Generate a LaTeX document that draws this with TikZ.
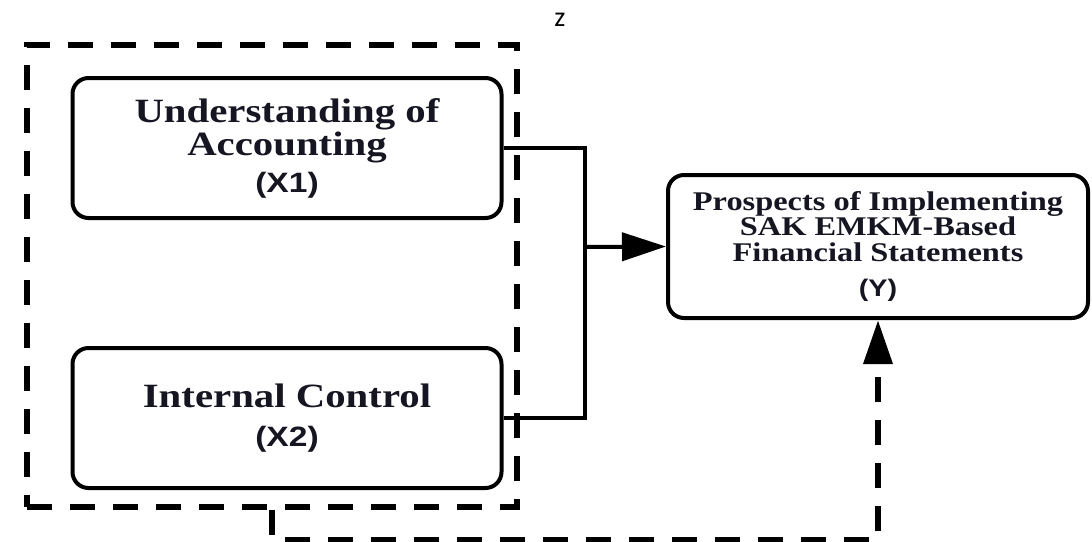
\documentclass[tikz,border=0pt]{standalone}
\usepackage{fontspec}
\usepackage{tikz}
\usetikzlibrary{arrows.meta,positioning}
\setmainfont{Liberation Serif}
\newfontfamily\labelfont[FakeStretch=1.2]{Liberation Serif}
\newfontfamily\codefont[FakeStretch=1.2]{Liberation Sans}
\newfontfamily\markfont{Carlito}
\definecolor{inkDark}{RGB}{22,22,34}
\definecolor{lineBlack}{RGB}{0,0,0}

\begin{document}
\begin{tikzpicture}[x=0.5pt,y=-0.5pt,
  varbox/.style={draw=lineBlack, line width=2pt, rounded corners=8pt, fill=white, text=inkDark, align=center, inner sep=0pt, minimum width=214.5pt, minimum height=70pt},
  grpbox/.style={draw=lineBlack, line width=3.3pt, dash pattern=on 12.5pt off 9pt, minimum width=245pt, minimum height=231pt, inner sep=0pt},
  link/.style={lineBlack, line width=2pt},
  dashlink/.style={lineBlack, line width=3.3pt, dash pattern=on 12.5pt off 9pt},
  tip/.style={-{Triangle[length=22pt,width=14pt]}}
]
\useasboundingbox (0,0) rectangle (1092,541);

\node[grpbox] (grp) at (272,276) {};
\node[font=\markfont\fontsize{14}{16}\selectfont] (zlab) at (560,20) {z};

\node[varbox, font=\labelfont\bfseries\fontsize{17}{15.5}\selectfont] (x1box) at (287,148)
  {Understanding of\\Accounting\\[3pt]{\codefont\fontsize{14}{15}\selectfont (X1)}};
\node[varbox, font=\labelfont\bfseries\fontsize{17}{15.5}\selectfont] (x2box) at (287,418)
  {Internal Control\\[4pt]{\codefont\fontsize{14}{15}\selectfont (X2)}};
\node[varbox, minimum width=210pt, minimum height=71.5pt, font=\labelfont\bfseries\fontsize{13.5}{12.6}\selectfont] (ybox) at (878,246.5)
  {Prospects of Implementing\\SAK EMKM-Based\\Financial Statements\\[5pt]{\codefont\fontsize{12}{13}\selectfont (Y)}};

% paths into Y
\coordinate (jn) at (585,247);
\draw[link] (x1box.east) -| (jn) |- (x2box.east);
\draw[link, tip] (jn) -- (ybox.west);
\draw[dashlink, tip] (grp.south) -- ++(0,30) -| (ybox.south);
\end{tikzpicture}
\end{document}
